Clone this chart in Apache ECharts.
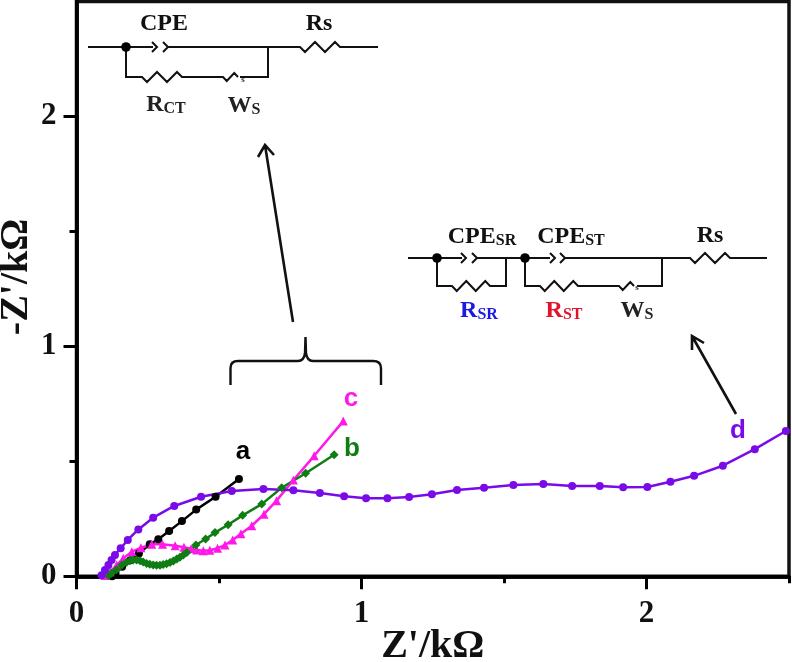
<!DOCTYPE html>
<html><head><meta charset="utf-8">
<style>html,body{margin:0;padding:0;background:#fff}#c{width:792px;height:662px}</style>
<script src="https://cdn.jsdelivr.net/npm/echarts@6/dist/echarts.min.js"></script>
</head><body><div id="c"></div>
<script>
const seriesA = [[0.125,0.0],[0.137,0.014],[0.160,0.041],[0.189,0.070],[0.219,0.099],[0.257,0.139],[0.287,0.161],[0.325,0.197],[0.370,0.240],[0.420,0.290],[0.488,0.346],[0.570,0.423]];
const seriesB = [[0.112,0.003],[0.123,0.013],[0.141,0.030],[0.159,0.049],[0.176,0.061],[0.187,0.068],[0.199,0.071],[0.211,0.071],[0.223,0.068],[0.234,0.062],[0.246,0.056],[0.257,0.052],[0.269,0.049],[0.281,0.048],[0.293,0.048],[0.304,0.051],[0.316,0.055],[0.328,0.060],[0.340,0.067],[0.352,0.075],[0.363,0.083],[0.375,0.093],[0.387,0.103],[0.419,0.136],[0.453,0.162],[0.486,0.190],[0.532,0.224],[0.583,0.265],[0.650,0.314],[0.720,0.385],[0.804,0.448],[0.904,0.529]];
const seriesC = [[0.100,0.003],[0.118,0.020],[0.141,0.049],[0.164,0.078],[0.194,0.107],[0.226,0.124],[0.264,0.139],[0.302,0.139],[0.346,0.133],[0.377,0.126],[0.402,0.120],[0.422,0.114],[0.445,0.111],[0.468,0.113],[0.495,0.122],[0.521,0.136],[0.548,0.158],[0.577,0.185],[0.615,0.220],[0.658,0.270],[0.702,0.329],[0.761,0.419],[0.834,0.524],[0.936,0.675]];
const seriesD = [[0.088,0.005],[0.100,0.027],[0.112,0.049],[0.123,0.071],[0.135,0.093],[0.155,0.122],[0.180,0.158],[0.217,0.204],[0.269,0.255],[0.343,0.306],[0.437,0.346],[0.545,0.371],[0.656,0.380],[0.761,0.374],[0.854,0.362],[0.939,0.348],[1.016,0.339],[1.091,0.340],[1.167,0.345],[1.247,0.357],[1.335,0.375],[1.430,0.385],[1.533,0.397],[1.638,0.401],[1.739,0.393],[1.836,0.393],[1.918,0.387],[2.003,0.388],[2.084,0.411],[2.167,0.437],[2.268,0.481],[2.380,0.553],[2.489,0.632]];
const majorTicks = [0,1,2];
const minorTicks = [0.5,1.5,2.5];
const yMinorTicks = [0.5,1.5];

const SERIF = '"Liberation Serif","DejaVu Serif",serif';
const SANS = '"Liberation Sans",Arial,sans-serif';
const zig = (x0,x1,y,n,h)=>{let s='';const d=(x1-x0)/(2*n);for(let i=0;i<2*n;i++){s+=` L ${x0+d*(i+0.5)} ${y+(i%2?-h:h)}`;}return s+` L ${x1} ${y}`;};
const chev = (x,y)=>`M ${x} ${y-5} L ${x+5} ${y} L ${x} ${y+5}`;
let pathCount = 0;
const path = (d,lw)=>{const name='annot'+(pathCount++);echarts.graphic.registerShape(name,echarts.graphic.extendPath(d));
  return {type:name,silent:true,z:20,shape:{},style:{stroke:'#111',fill:'none',lineWidth:lw||2}};};
const dot = (x,y)=>({type:'circle',silent:true,z:20,shape:{cx:x,cy:y,r:4.8},style:{fill:'#000'}});
const txt = (x,y,t,col,size,fam,rich)=>({type:'text',silent:true,z:21,x,y,style:{text:t,fill:col,font:`bold ${size}px ${fam}`,align:'center',verticalAlign:'middle',rich}});
const subRich = col=>({b:{font:`bold 24px ${SERIF}`,fill:col,verticalAlign:'bottom'},s:{font:`bold 16px ${SERIF}`,fill:col,verticalAlign:'bottom'}});
const sub = (x,y,a,b,col)=>txt(x,y,`{b|${a}}{s|${b}}`,col,24,SERIF,subRich(col));

const y1=47, y1b=77;
const circuit1 = [
 `M 88 ${y1} L 153 ${y1}`, chev(152,y1), chev(163,y1),
 `M 168 ${y1} L 300 ${y1}` + zig(300,340,y1,2,5) + ` L 378 ${y1}`,
 `M 126 ${y1} L 126 ${y1b} L 142 ${y1b}` + zig(142,182,y1b,2,5) + ` L 223 ${y1b}` + zig(223,238,y1b,1,4) + ` M 240 ${y1b} L 268 ${y1b} L 268 ${y1}`
].join(' ');
const y2=258, y2b=286;
const circuit2 = [
 `M 408 ${y2} L 462 ${y2}`, chev(461,y2), chev(472,y2),
 `M 477 ${y2} L 550 ${y2}`, chev(550,y2), chev(560,y2),
 `M 565 ${y2} L 690 ${y2}` + zig(690,730,y2,2,5) + ` L 767 ${y2}`,
 `M 437 ${y2} L 437 ${y2b} L 452 ${y2b}` + zig(452,490,y2b,2,5) + ` L 506 ${y2b} L 506 ${y2}`,
 `M 525 ${y2} L 525 ${y2b} L 540 ${y2b}` + zig(540,578,y2b,2,5) + ` L 619 ${y2b}` + zig(619,634,y2b,1,4) + ` M 637 ${y2b} L 662 ${y2b} L 662 ${y2}`
].join(' ');

const graphics = [
 path(circuit1), path(circuit2),
 dot(126,y1), dot(437,y2), dot(525,y2),
 txt(164,24,'CPE','#111',24,SERIF), txt(319,24,'Rs','#111',24,SERIF),
 sub(166,105,'R','CT','#222'), sub(244,106,'W','S','#222'),
 txt(243,80,'s','#333',9,SERIF),
 sub(482,237,'CPE','SR','#111'), sub(571,237,'CPE','ST','#111'),
 txt(710,236,'Rs','#111',24,SERIF),
 sub(479,311,'R','SR','#1a1ae0'), sub(564,311,'R','ST','#e0142a'), sub(637,311,'W','S','#222'),
 txt(637,288,'s','#333',9,SERIF),
 path('M 293 322 L 265 145 M 258 157 L 265 145 L 274 155',2.6),
 path('M 736 414 L 692 336 M 692 350 L 692 336 L 704 343',2.6),
 path('M 230.5 385 L 230.5 368 Q 230.5 361 238 361 L 298 361 Q 304 361 305 353 L 305.5 337 L 306 353 Q 307 361 313 361 L 373 361 Q 381 361 381 368 L 381 385',2.4),
 txt(243,452,'a','#000',26,SANS), txt(352,449,'b','#0f7d14',26,SANS),
 txt(351,399,'c','#ff19e8',26,SANS), txt(738,431,'d','#7a0be8',26,SANS)
];

const baseX = {type:'value',min:0,max:2.5,interval:0.5,splitLine:{show:false},axisLine:{onZero:false,lineStyle:{color:'#000',width:3.5}}};
const baseY = {type:'value',min:0,max:2.5,interval:0.5,splitLine:{show:false},axisLine:{onZero:false,lineStyle:{color:'#000',width:3.5}}};
const lab = {show:true,customValues:majorTicks,formatter:v=>String(v),color:'#111',fontFamily:SERIF,fontWeight:'bold',fontSize:31};
const mk = (data,color,symbol,size)=>({type:'line',data,symbol,symbolSize:size,showSymbol:true,clip:false,animation:false,
  itemStyle:{color},lineStyle:{color,width:2.5}});

const option = {
 animation:false,backgroundColor:'#fff',
 grid:{left:76.5,top:1.5,width:712.5,height:574.8,outerBoundsMode:'none',show:true,borderColor:'#111',borderWidth:3.5,backgroundColor:'transparent'},
 xAxis:[
  Object.assign({},baseX,{position:'bottom',axisTick:{show:true,customValues:majorTicks,length:13,lineStyle:{color:'#000',width:3}},axisLabel:Object.assign({},lab,{margin:22}),
    name:"Z'/kΩ",nameLocation:'middle',nameGap:50,nameMoveOverlap:false,nameTextStyle:{color:'#111',fontFamily:SERIF,fontWeight:'bold',fontSize:40}}),
  Object.assign({},baseX,{position:'bottom',axisTick:{show:true,customValues:minorTicks,length:7,lineStyle:{color:'#000',width:3}},axisLabel:{show:false}})
 ],
 yAxis:[
  Object.assign({},baseY,{position:'left',axisTick:{show:true,customValues:majorTicks,length:13,lineStyle:{color:'#000',width:3}},axisLabel:Object.assign({},lab,{margin:20}),
    name:"-Z'/kΩ",nameLocation:'middle',nameGap:40,nameMoveOverlap:false,nameRotate:90,nameTextStyle:{color:'#111',fontFamily:SERIF,fontWeight:'bold',fontSize:40,padding:[0,0,0,24]}}),
  Object.assign({},baseY,{position:'left',axisTick:{show:true,customValues:yMinorTicks,length:7,lineStyle:{color:'#000',width:3}},axisLabel:{show:false}})
 ],
 series:[
  mk(seriesA,'#000','circle',8),
  mk(seriesC,'#ff19e8','triangle',9),
  mk(seriesB,'#0f7d14','diamond',9),
  mk(seriesD,'#7a0be8','circle',8)
 ],
 graphic:graphics
};
echarts.init(document.getElementById('c'),null,{renderer:'canvas'}).setOption(option);
</script></body></html>
